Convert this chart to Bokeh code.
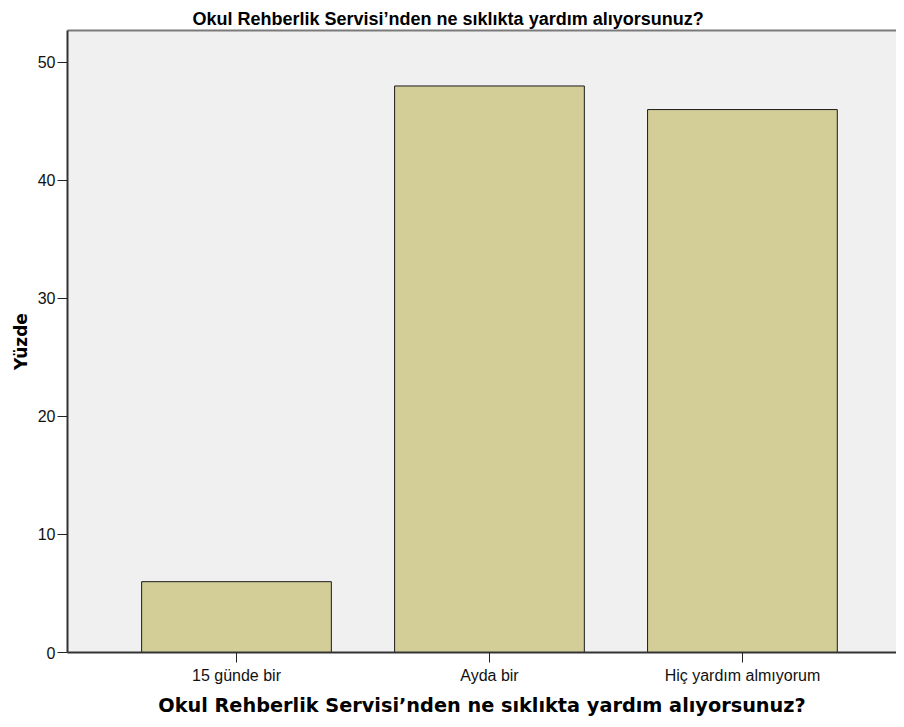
from bokeh.plotting import figure
from bokeh.models import FixedTicker, LinearAxis, Range1d, ColumnDataSource, Title
from bokeh.embed import file_html
from bokeh.resources import INLINE

categories = ["15 günde bir", "Ayda bir", "Hiç yardım almıyorum"]
percent = [6.0, 48.0, 46.0]
y_ticks = [0, 10, 20, 30, 40, 50]
title_text = "Okul Rehberlik Servisi’nden ne sıklıkta yardım alıyorsunuz?"
x_label = "Okul Rehberlik Servisi’nden ne sıklıkta yardım alıyorsunuz?"
y_label = "Yüzde"

positions = list(range(1, len(categories) + 1))
src = ColumnDataSource(dict(x=positions, top=percent, cat=categories))

p = figure(width=896, height=719, output_backend="svg", toolbar_location=None,
           x_range=Range1d(0.332, 3.609), y_range=Range1d(0, 52.7),
           min_border_left=67, min_border_right=0, min_border_top=30,
           min_border_bottom=66)

p.vbar(x="x", top="top", bottom=0, width=0.75, source=src,
       fill_color="#D3CE97", line_color="#1a1a1a", line_width=1)

p.background_fill_color = "#F0F0F0"
p.border_fill_color = "white"
p.outline_line_color = None
p.xgrid.visible = False
p.ygrid.visible = False

# x axis
xa = p.xaxis[0]
xa.ticker = FixedTicker(ticks=positions)
xa.major_label_overrides = {pos: c for pos, c in zip(positions, categories)}
xa.major_tick_out = 10
xa.major_tick_in = 0
xa.minor_tick_line_color = None
xa.major_tick_line_color = "#222222"
xa.axis_line_color = "#333333"
xa.axis_line_width = 2
xa.major_label_text_font = "Liberation Sans"
xa.major_label_text_font_size = "16px"
xa.major_label_text_color = "#111111"
xa.major_label_standoff = 4
xa.axis_label = x_label
xa.axis_label_text_font = "DejaVu Sans"
xa.axis_label_text_font_style = "bold"
xa.axis_label_text_font_size = "19.3px"
xa.axis_label_text_color = "#000000"
xa.axis_label_standoff = 7

# y axis
ya = p.yaxis[0]
ya.ticker = FixedTicker(ticks=y_ticks)
ya.major_tick_out = 10
ya.major_tick_in = 0
ya.minor_tick_line_color = None
ya.major_tick_line_color = "#222222"
ya.axis_line_color = "#333333"
ya.axis_line_width = 2
ya.major_label_text_font = "Liberation Sans"
ya.major_label_text_font_size = "16px"
ya.major_label_text_color = "#111111"
ya.major_label_standoff = 2
ya.axis_label = y_label
ya.axis_label_text_font = "DejaVu Sans"
ya.axis_label_text_font_style = "bold"
ya.axis_label_text_font_size = "17px"
ya.axis_label_text_color = "#000000"
ya.axis_label_standoff = 4

# top border line
top_axis = LinearAxis(ticker=FixedTicker(ticks=[]), major_tick_out=0, major_tick_in=0,
                      minor_tick_out=0, minor_tick_in=0,
                      major_tick_line_color=None,
                      major_label_text_font_size="0px",
                      axis_line_color="#7a7a7a", axis_line_width=2)
p.add_layout(top_axis, "above")

t = Title(text=title_text, align="left", offset=125, standoff=0,
          vertical_align="top",
          text_font="Liberation Sans", text_font_style="bold",
          text_font_size="18px", text_color="#000000")
p.add_layout(t, "above")

open("out.html", "w").write(file_html(p, INLINE))
